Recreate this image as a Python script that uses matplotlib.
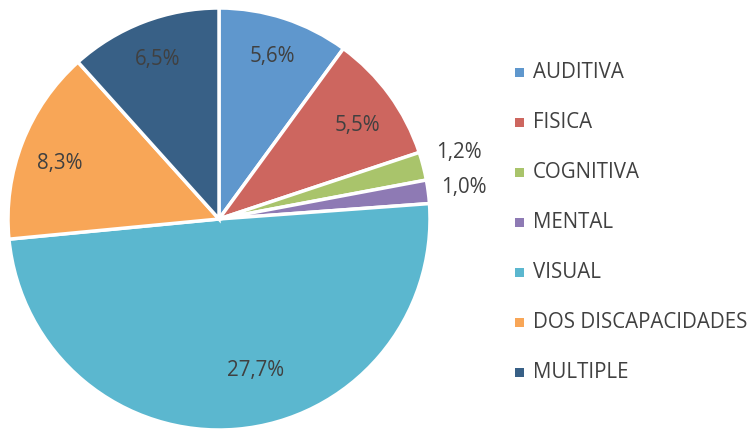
import numpy as np
import matplotlib
matplotlib.use("Agg")
import matplotlib.pyplot as plt
from matplotlib.patches import Rectangle

categories = ["AUDITIVA", "FISICA", "COGNITIVA", "MENTAL", "VISUAL",
              "DOS DISCAPACIDADES", "MULTIPLE"]
values = [5.6, 5.5, 1.2, 1.0, 27.7, 8.3, 6.5]
labels = ["5,6%", "5,5%", "1,2%", "1,0%", "27,7%", "8,3%", "6,5%"]
colors = ["#5F97CD", "#CD665F", "#A9C46B", "#8E7AB4", "#5BB7CF", "#F8A657", "#386086"]

W, H = 753, 429
fig = plt.figure(figsize=(W / 100, H / 100), dpi=100)
R = 211
cx, cy = 219, 219
ax = fig.add_axes([(cx - R) / W, (H - cy - R) / H, 2 * R / W, 2 * R / H])

font = "Open Sans"
tcol = "#404040"
fs = 14.8

wedges, _ = ax.pie(values, colors=colors, startangle=90, counterclock=False,
                   radius=1.0, wedgeprops=dict(edgecolor="white", linewidth=2.5))
ax.set_xlim(-1, 1)
ax.set_ylim(-1, 1)
ax.axis("off")

rfrac = [0.81, 0.79, 1.18, 1.17, 0.74, 0.80, 0.81]
aoff = [0, -2, 1, 0, 8.6, 2, 0]
for w, lab, rf, ao in zip(wedges, labels, rfrac, aoff):
    mid = np.deg2rad((w.theta1 + w.theta2) / 2 + ao)
    ax.text(rf * np.cos(mid), rf * np.sin(mid), lab, ha="center", va="center",
            fontsize=fs, color=tcol, family=font, clip_on=False)

# legend
for i, (c, name) in enumerate(zip(colors, categories)):
    y = H - (72 + i * 50)
    fig.patches.append(Rectangle(((515) / W, (y - 4.5) / H), 9 / W, 9 / H,
                                 transform=fig.transFigure, facecolor=c,
                                 edgecolor="none"))
    fig.text(533 / W, y / H, name, ha="left", va="center", fontsize=fs,
             color=tcol, family=font)

fig.savefig("out.png", dpi=100)
